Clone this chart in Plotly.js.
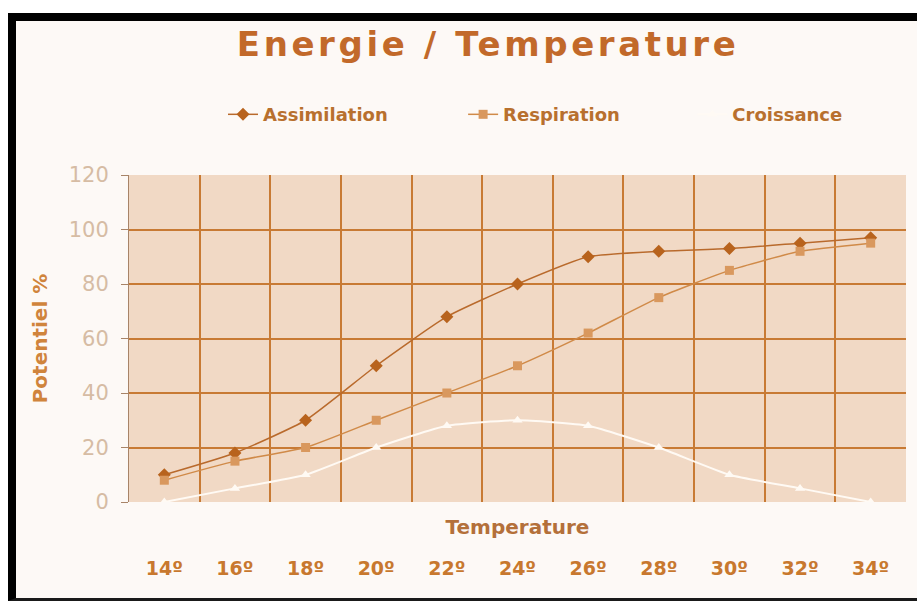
<!DOCTYPE html>
<html>
<head>
<meta charset="utf-8">
<script src="https://cdn.plot.ly/plotly-3.0.1.min.js"></script>
<style>
  html, body { margin: 0; padding: 0; background: #ffffff; width: 917px; height: 601px; overflow: hidden; }
  #frame { position: absolute; left: 8px; top: 13px; width: 901px; height: 577px;
           border-left: 8px solid #000; border-top: 8px solid #000; border-bottom: 3px solid #1a1a1a; }
  #chart { width: 901px; height: 577px; }
  #chart .gtitle { letter-spacing: 3.6px; }
</style>
</head>
<body>
<div id="frame"><div id="chart"></div></div>
<script>
// ---- data ----
const temperatures = ["14º", "16º", "18º", "20º", "22º", "24º", "26º", "28º", "30º", "32º", "34º"];
const assimilation = [10, 18, 30, 50, 68, 80, 90, 92, 93, 95, 97];
const respiration  = [8, 15, 20, 30, 40, 50, 62, 75, 85, 92, 95];
const croissance   = [0, 5, 10, 20, 28, 30, 28, 20, 10, 5, 0];
const yTicks = [0, 20, 40, 60, 80, 100, 120];

// ---- chart ----
const pos = temperatures.map((t, i) => i);
const bounds = temperatures.slice(1).map((t, i) => i + 0.5);
const FONT = "DejaVu Sans, Arial, sans-serif";
const legendFont = { family: FONT, size: 18, weight: "bold", color: "#b8702e" };
const legendY = 1.148;

const traces = [
  { name: "Assimilation", legend: "legend", x: pos, y: assimilation, type: "scatter", mode: "lines+markers",
    line: { color: "#b96a2c", width: 1.5, shape: "spline", smoothing: 0.5 },
    marker: { symbol: "diamond", size: 10, color: "#b8631d" }, hoverinfo: "skip" },
  { name: "Respiration", legend: "legend2", x: pos, y: respiration, type: "scatter", mode: "lines+markers",
    line: { color: "#d08a48", width: 1.5, shape: "spline", smoothing: 0.5 },
    marker: { symbol: "square", size: 9, color: "#d9985e" }, hoverinfo: "skip" },
  { name: "Croissance", legend: "legend3", x: pos, y: croissance, type: "scatter", mode: "lines+markers",
    line: { color: "#fffaf4", width: 2, shape: "spline", smoothing: 0.5 },
    marker: { symbol: "triangle-up", size: 9, color: "#fffaf4" }, hoverinfo: "skip" },
  { x: pos, y: pos.map(() => null), xaxis: "x2", type: "scatter", mode: "markers",
    showlegend: false, hoverinfo: "skip" }
];

function leg(x) {
  return { orientation: "h", x: x, xanchor: "left", y: legendY, yanchor: "middle",
           bgcolor: "rgba(0,0,0,0)", borderwidth: 0, font: legendFont };
}

const layout = {
  width: 901, height: 577,
  margin: { l: 113, r: 11, t: 154, b: 15 },
  paper_bgcolor: "#fdf9f6",
  plot_bgcolor: "#f1d9c5",
  font: { family: FONT },
  title: { text: "Energie / Temperature", x: 0.524, xanchor: "center", y: 0.96, yanchor: "middle",
           font: { family: FONT, size: 34, weight: "bold", color: "#c2692a" } },
  showlegend: true,
  legend: leg(0.121),
  legend2: leg(0.430),
  legend3: leg(0.725),
  xaxis: {
    range: [-0.5, 10.5], tickvals: bounds, showticklabels: false, ticks: "",
    showgrid: true, gridcolor: "#c87a34", gridwidth: 2, zeroline: false, showline: false,
    title: { text: "Temperature", standoff: 17,
             font: { family: FONT, size: 20, weight: "bold", color: "#b4703a" } }
  },
  xaxis2: {
    overlaying: "x", anchor: "free", position: 0.0686, side: "bottom",
    range: [-0.5, 10.5], tickvals: pos, ticktext: temperatures, ticks: "",
    showgrid: false, zeroline: false, showline: false,
    tickfont: { family: FONT, size: 19, weight: "bold", color: "#c8782e" }
  },
  yaxis: {
    domain: [0.1985, 1], range: [0, 120], tickvals: yTicks, ticktext: yTicks.map(String),
    showgrid: false, zeroline: false,
    minor: { tickvals: [20, 40, 60, 80, 100], showgrid: true, gridcolor: "#c87a34", gridwidth: 2, ticks: "" },
    showline: true, linecolor: "#a88468", linewidth: 1,
    ticks: "outside", ticklen: 7, tickcolor: "#a88468", ticklabelstandoff: 8,
    tickfont: { family: FONT, size: 21, color: "#d6bca4" },
    title: { text: "Potentiel %", standoff: 15,
             font: { family: FONT, size: 20, weight: "bold", color: "#d0843c" } }
  }
};

Plotly.newPlot("chart", traces, layout, { displayModeBar: false, staticPlot: true });
</script>
</body>
</html>
